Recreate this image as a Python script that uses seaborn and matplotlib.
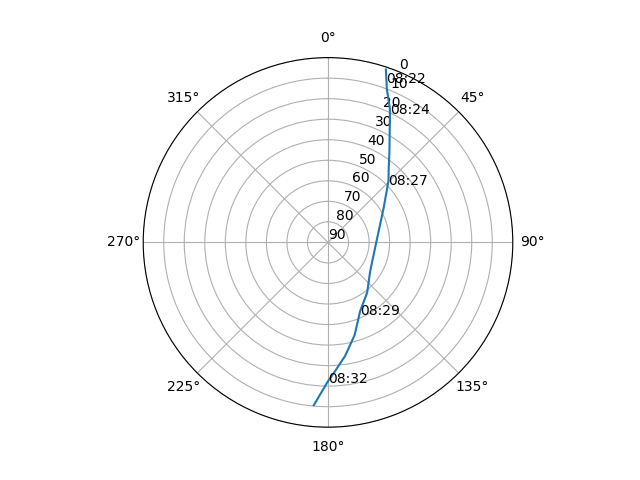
import numpy as np
import matplotlib
matplotlib.use("Agg")
import matplotlib.pyplot as plt
import seaborn as sns

az = [18.5, 21, 25, 29, 34, 39, 44.5, 58, 73, 100, 125, 142, 155, 164, 171.5, 177, 180, 185]
el = [1.2, 10, 18.6, 28, 36.5, 43, 48, 58, 63.7, 67, 65, 59, 53, 43, 34, 27, 22.4, 10.4]
time_labels = ["08:22", "08:24", "08:27", "08:29", "08:32"]
label_az = [19.5, 25, 44.5, 155, 180]
label_el = [5.5, 18.6, 48, 53, 23.5]

fig = plt.figure(figsize=(6.4, 4.8), dpi=100)
ax = fig.add_subplot(111, projection="polar")
ax.set_theta_zero_location("N")
ax.set_theta_direction(-1)
sns.lineplot(x=np.radians(az), y=el, ax=ax, sort=False)
ax.set_rlim(90, 0)
ax.set_yticks(range(0, 91, 10))
for t, a, e in zip(time_labels, label_az, label_el):
    ax.text(np.radians(a), e, t, ha="left", va="center")
ax.set_xlabel("")
ax.set_ylabel("")
fig.savefig("out.png")
